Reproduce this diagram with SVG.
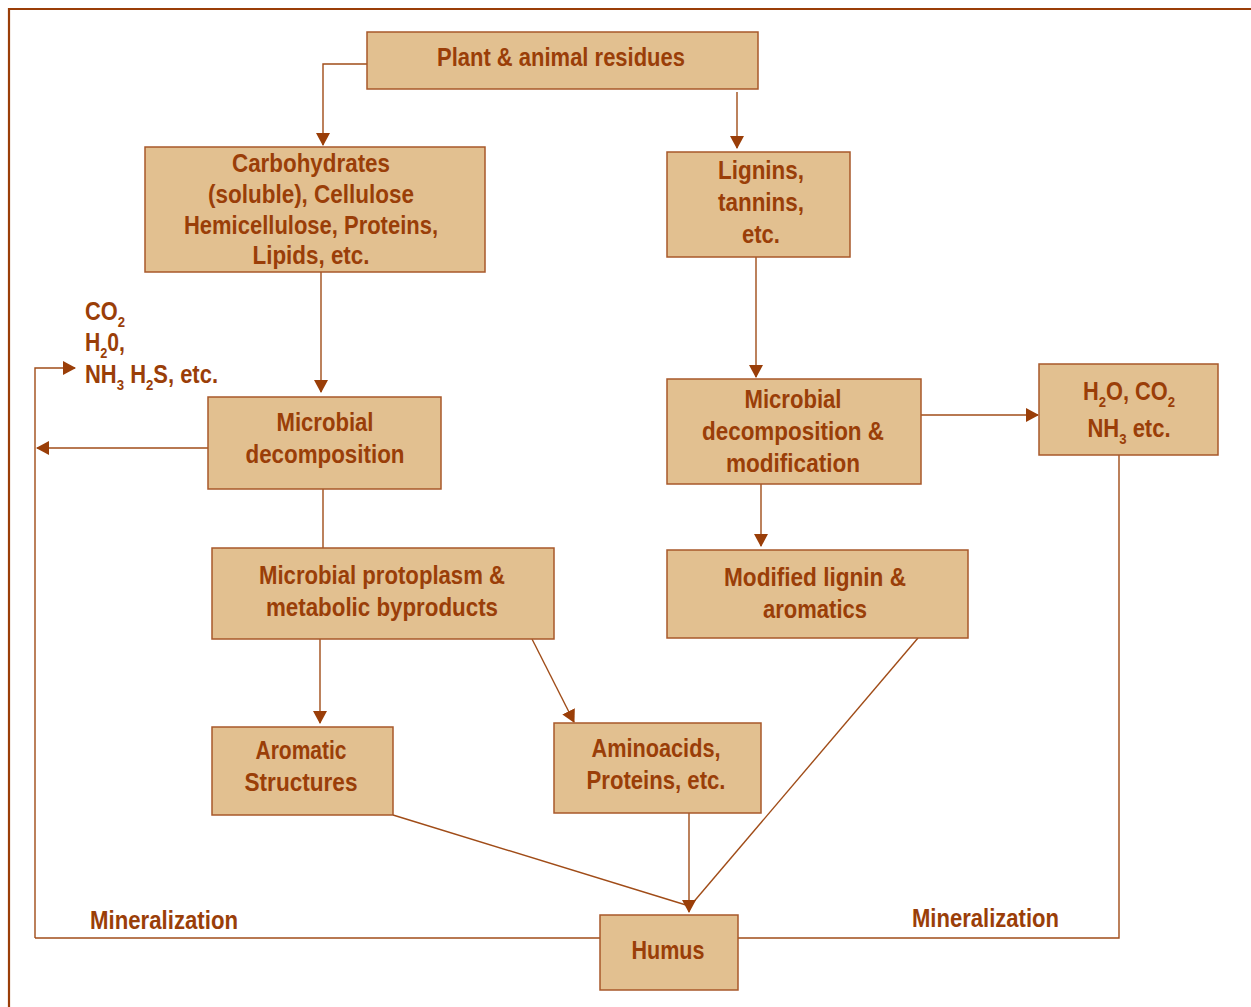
<svg xmlns="http://www.w3.org/2000/svg" width="1251" height="1007" viewBox="0 0 1251 1007">
<style>
.box{fill:#e2c090;stroke:#a8582a;stroke-width:1.5}
.t{font-family:"Liberation Sans",Arial,sans-serif;font-weight:bold;font-size:25px;fill:#9a3e08;text-anchor:middle}
.ts{font-family:"Liberation Sans",Arial,sans-serif;font-weight:bold;font-size:25px;fill:#9a3e08}
.sub{font-size:15px}
.c{fill:none;stroke:#a04c18;stroke-width:1.4}
</style>
<defs>
<marker id="ah" viewBox="0 0 13 14" refX="12" refY="7" markerWidth="13" markerHeight="14" markerUnits="userSpaceOnUse" orient="auto">
<path d="M0,0 L13,7 L0,14 Z" fill="#9a3e08"/>
</marker>
</defs>
<rect width="1251" height="1007" fill="#ffffff"/>
<path d="M9,1007 V9 H1251" fill="none" stroke="#9a3e08" stroke-width="2.2"/>

<g id="connectors">
<path class="c" d="M367,64 H323 V145" marker-end="url(#ah)"/>
<path class="c" d="M737,92 V148" marker-end="url(#ah)"/>
<path class="c" d="M321,272 V392" marker-end="url(#ah)"/>
<path class="c" d="M208,448 H37" marker-end="url(#ah)"/>
<path class="c" d="M35,938 V368 H75" marker-end="url(#ah)"/>
<path class="c" d="M35,938 H600"/>
<path class="c" d="M756,257 V377" marker-end="url(#ah)"/>
<path class="c" d="M921,415 H1038" marker-end="url(#ah)"/>
<path class="c" d="M1119,455 V938 H738"/>
<path class="c" d="M323,489 V548"/>
<path class="c" d="M761,484 V546" marker-end="url(#ah)"/>
<path class="c" d="M320,639 V723" marker-end="url(#ah)"/>
<path class="c" d="M532,639 L574,722" marker-end="url(#ah)"/>
<path class="c" d="M393,815 L686,905"/>
<path class="c" d="M918,638 L691,905"/>
<path class="c" d="M689,813 V912" marker-end="url(#ah)"/>
</g>

<g id="residues">
<rect class="box" x="367" y="32" width="391" height="57"/>
<text class="t" x="561" y="66" textLength="248" lengthAdjust="spacingAndGlyphs">Plant &amp; animal residues</text>
</g>
<g id="carbohydrates">
<rect class="box" x="145" y="147" width="340" height="125"/>
<text class="t" x="311" y="172" textLength="158" lengthAdjust="spacingAndGlyphs">Carbohydrates</text>
<text class="t" x="311" y="203" textLength="206" lengthAdjust="spacingAndGlyphs">(soluble),  Cellulose</text>
<text class="t" x="311" y="234" textLength="254" lengthAdjust="spacingAndGlyphs">Hemicellulose, Proteins,</text>
<text class="t" x="311" y="264" textLength="117" lengthAdjust="spacingAndGlyphs">Lipids,  etc.</text>
</g>
<g id="lignins">
<rect class="box" x="667" y="152" width="183" height="105"/>
<text class="t" x="761" y="179" textLength="86" lengthAdjust="spacingAndGlyphs">Lignins,</text>
<text class="t" x="761" y="211" textLength="86" lengthAdjust="spacingAndGlyphs">tannins,</text>
<text class="t" x="761" y="243" textLength="38" lengthAdjust="spacingAndGlyphs">etc.</text>
</g>
<g id="gases-left">
<text class="ts" x="85" y="320" textLength="40" lengthAdjust="spacingAndGlyphs">CO<tspan class="sub" dy="7">2</tspan></text>
<text class="ts" x="85" y="351" textLength="40" lengthAdjust="spacingAndGlyphs">H<tspan class="sub" dy="7">2</tspan><tspan dy="-7">0,</tspan></text>
<text class="ts" x="85" y="383" textLength="133" lengthAdjust="spacingAndGlyphs">NH<tspan class="sub" dy="7">3</tspan><tspan dy="-7"> H</tspan><tspan class="sub" dy="7">2</tspan><tspan dy="-7">S,  etc.</tspan></text>
</g>
<g id="microbial-decomposition">
<rect class="box" x="208" y="397" width="233" height="92"/>
<text class="t" x="325" y="431" textLength="97" lengthAdjust="spacingAndGlyphs">Microbial</text>
<text class="t" x="325" y="463" textLength="159" lengthAdjust="spacingAndGlyphs">decomposition</text>
</g>
<g id="microbial-decomp-mod">
<rect class="box" x="667" y="379" width="254" height="105"/>
<text class="t" x="793" y="408" textLength="97" lengthAdjust="spacingAndGlyphs">Microbial</text>
<text class="t" x="793" y="440" textLength="182" lengthAdjust="spacingAndGlyphs">decomposition &amp;</text>
<text class="t" x="793" y="472" textLength="134" lengthAdjust="spacingAndGlyphs">modification</text>
</g>
<g id="gases-right">
<rect class="box" x="1039" y="364" width="179" height="91"/>
<text class="t" x="1129" y="400" textLength="92" lengthAdjust="spacingAndGlyphs">H<tspan class="sub" dy="7">2</tspan><tspan dy="-7">O, CO</tspan><tspan class="sub" dy="7">2</tspan></text>
<text class="t" x="1129" y="437" textLength="83" lengthAdjust="spacingAndGlyphs">NH<tspan class="sub" dy="7">3</tspan><tspan dy="-7">  etc.</tspan></text>
</g>
<g id="protoplasm">
<rect class="box" x="212" y="548" width="342" height="91"/>
<text class="t" x="382" y="584" textLength="246" lengthAdjust="spacingAndGlyphs">Microbial protoplasm &amp;</text>
<text class="t" x="382" y="616" textLength="232" lengthAdjust="spacingAndGlyphs">metabolic byproducts</text>
</g>
<g id="modified-lignin">
<rect class="box" x="667" y="550" width="301" height="88"/>
<text class="t" x="815" y="586" textLength="182" lengthAdjust="spacingAndGlyphs">Modified lignin &amp;</text>
<text class="t" x="815" y="618" textLength="104" lengthAdjust="spacingAndGlyphs">aromatics</text>
</g>
<g id="aromatic">
<rect class="box" x="212" y="727" width="181" height="88"/>
<text class="t" x="301" y="759" textLength="91" lengthAdjust="spacingAndGlyphs">Aromatic</text>
<text class="t" x="301" y="791" textLength="113" lengthAdjust="spacingAndGlyphs">Structures</text>
</g>
<g id="aminoacids">
<rect class="box" x="554" y="723" width="207" height="90"/>
<text class="t" x="656" y="757" textLength="129" lengthAdjust="spacingAndGlyphs">Aminoacids,</text>
<text class="t" x="656" y="789" textLength="139" lengthAdjust="spacingAndGlyphs">Proteins, etc.</text>
</g>
<g id="humus">
<rect class="box" x="600" y="915" width="138" height="75"/>
<text class="t" x="668" y="959" textLength="73" lengthAdjust="spacingAndGlyphs">Humus</text>
</g>
<g id="labels">
<text class="ts" x="90" y="929" textLength="148" lengthAdjust="spacingAndGlyphs">Mineralization</text>
<text class="ts" x="912" y="927" textLength="147" lengthAdjust="spacingAndGlyphs">Mineralization</text>
</g>
</svg>
